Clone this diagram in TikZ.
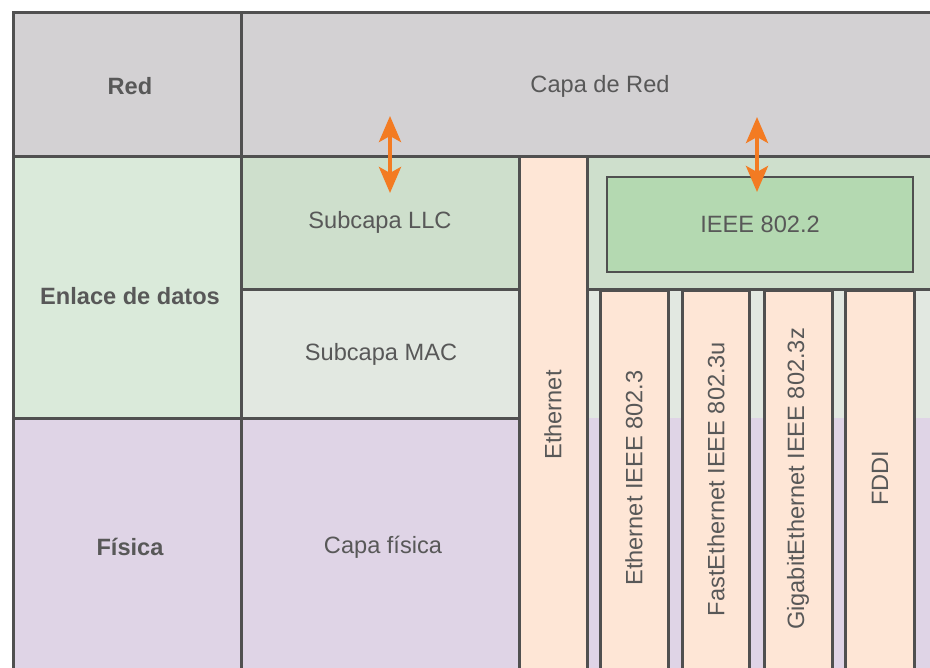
\documentclass[tikz,border=0pt]{standalone}
\usepackage{fontspec}
\setmainfont{Liberation Sans}
\usepackage{tikz}
\usetikzlibrary{arrows.meta,positioning}
\definecolor{linegray}{RGB}{80,80,80}
\definecolor{textgray}{RGB}{88,88,88}
\definecolor{netgray}{RGB}{211,209,211}
\definecolor{linkgreen}{RGB}{218,234,218}
\definecolor{llcgreen}{RGB}{206,223,204}
\definecolor{macgreen}{RGB}{226,232,225}
\definecolor{physpurple}{RGB}{223,212,230}
\definecolor{ethpeach}{RGB}{254,230,214}
\definecolor{ieeegreen}{RGB}{180,217,177}
\definecolor{orange}{RGB}{243,123,34}

\begin{document}
\begin{tikzpicture}[
  x=0.5pt,y=-0.5pt,
  font=\fontsize{11.8}{14}\selectfont,
  grid/.style={draw=linegray,line width=1.5pt},
  thingrid/.style={draw=linegray,line width=1.1pt},
  label/.style={text=textgray,inner sep=0pt},
  head/.style={label,font=\fontsize{11.8}{14}\selectfont\bfseries},
  vlabel/.style={label,rotate=90},
  updown/.style={{Stealth[length=13pt,width=11pt,inset=3pt]}-{Stealth[length=13pt,width=11pt,inset=3pt]},
                 draw=orange,line width=2pt}
]
\useasboundingbox (0,0) rectangle (930,668);
\clip (0,0) rectangle (930,668);
% background rows
\fill[netgray] (13,13) rectangle (945,157);
\fill[linkgreen] (13,157) rectangle (241,418);
\fill[llcgreen] (241,157) rectangle (945,289);
\fill[macgreen] (241,289) rectangle (945,418);
\fill[physpurple] (13,418) rectangle (945,690);
% grid lines
\draw[grid] (945,13) -- (13,13) -- (13,690);
\draw[grid] (241,13) -- (241,690);
\draw[grid] (13,157) -- (945,157);
\draw[grid] (241,289) -- (519,289);
\draw[grid] (587,289) -- (945,289);
\draw[grid] (13,418) -- (519,418);
% Ethernet columns
\draw[grid,fill=ethpeach] (519,157) rectangle (587,690);
\foreach \xl/\xr in {600/668,682/749,764/832,845/914}
  \draw[grid,fill=ethpeach] (\xl,290) rectangle (\xr,690);
\draw[thingrid,fill=ieeegreen] (607,177) rectangle (913,272);

% texts
\node[head] (red) at (130,86) {Red};
\node[label] (capared) at (600,86) {Capa de Red};
\node[head] (enlace) at (130,296) {Enlace de datos};
\node[label] (llc) at (380,222) {Subcapa LLC};
\node[label] (mac) at (381,354) {Subcapa MAC};
\node[head] (fisica) at (130,547) {Física};
\node[label] (capafisica) at (383,547) {Capa física};
\node[label] (ieee) at (760,224) {IEEE 802.2};
\node[vlabel] (eth) at (553,415) {Ethernet};
\node[vlabel] (eth3) at (634,478) {Ethernet IEEE 802.3};
\node[vlabel] (fast) at (716,479) {FastEthernet IEEE 802.3u};
\node[vlabel] (giga) at (798,479) {GigabitEthernet IEEE 802.3z};
\node[vlabel] (fddi) at (880,478) {FDDI};

% arrows
\coordinate (llctop) at (390,116);
\coordinate (llcbot) at (390,193);
\coordinate (ieeetop) at (757,117);
\coordinate (ieeebot) at (757,192);
\draw[updown] (llctop) -- (llcbot);
\draw[updown] (ieeetop) -- (ieeebot);
\end{tikzpicture}
\end{document}
